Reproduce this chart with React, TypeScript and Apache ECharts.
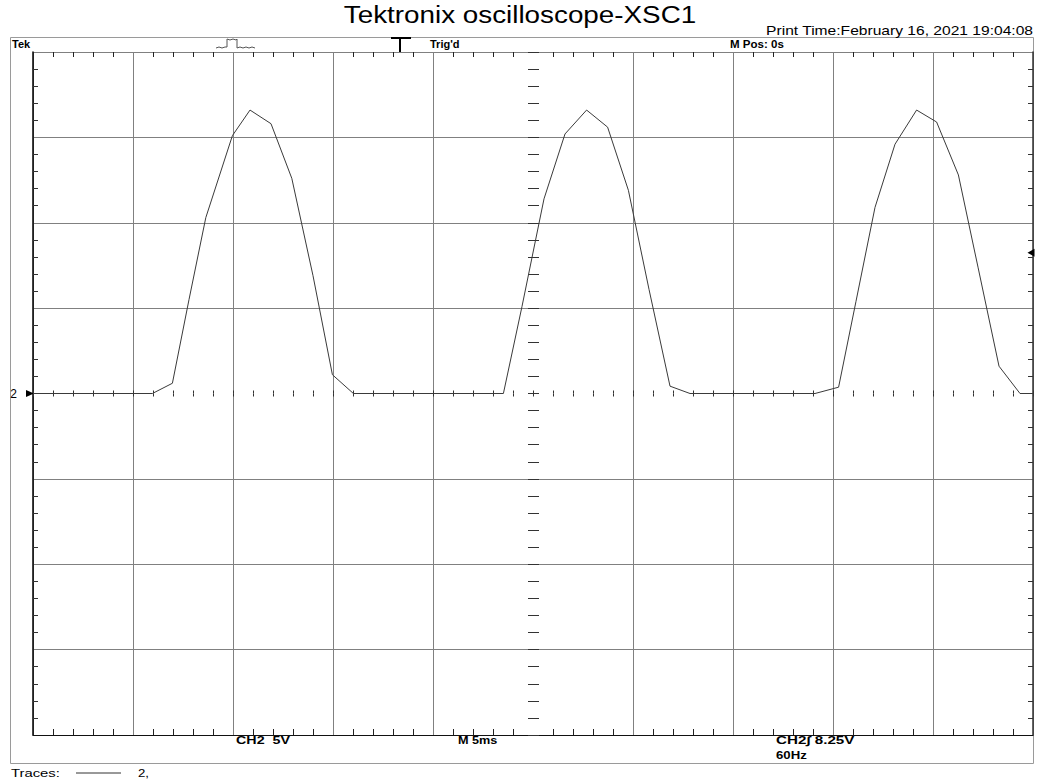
import React, { useEffect, useRef } from "react";
import * as echarts from "echarts";

const timeMs = [
  -25, -19.03, -18.03, -17.2, -16.36, -15.03, -14.15, -13.1, -12.06, -11.0, -10.03, -8.98,
  -1.48, -0.55, 0.55, 1.6, 2.68, 3.73, 4.77, 5.8, 6.85, 7.85,
  14.1, 15.28, 16.15, 17.1, 18.1, 19.18, 20.18, 21.27, 22.25, 23.3, 24.35, 25,
];
const ch2Volts = [
  0, 0, 0.6, 5.5, 10.3, 15.1, 16.6, 15.8, 12.6, 6.9, 1.1, 0,
  0, 5.1, 11.4, 15.2, 16.6, 15.6, 11.9, 6.1, 0.43, 0,
  0, 0.37, 5.4, 10.9, 14.6, 16.6, 15.9, 12.8, 7.4, 1.6, 0, 0,
];
const timeRange = [-25, 25]; // 10 divisions of 5 ms
const msPerDiv = 5;
const voltRange = [-20, 20]; // 8 divisions of 5 V
const voltsPerDiv = 5;
const minorPerDiv = 5;
const triggerLevel = 8.25;
const channelLabel = "2";

const titleText = "Tektronix oscilloscope-XSC1";
const printTime = "Print Time:February 16, 2021 19:04:08";
const headerTexts = ["Tek", "Trig'd", "M Pos: 0s"];
const footerTexts = ["CH2  5V", "M 5ms", "CH2\u222B 8.25V", "60Hz"];
const legendText = ["Traces:", "2,"];

const FF = '"Liberation Sans", Arial, sans-serif';

function txt(text: string, x: number, y: number, font: string, align = "left", scaleX = 1) {
  return {
    type: "text",
    x,
    y,
    scaleX,
    silent: true,
    style: {
      text,
      font,
      fill: "#000",
      align,
      verticalAlign: "middle",
      textAlign: align,
      textVerticalAlign: "middle",
    },
  };
}

export default function App() {
  const ref = useRef<HTMLDivElement>(null);
  useEffect(() => {
    const chart = echarts.init(ref.current!, null, { renderer: "svg" });
    const xCount = (timeRange[1] - timeRange[0]) / msPerDiv + 1;
    const yCount = (voltRange[1] - voltRange[0]) / voltsPerDiv + 1;
    const xSplitColors = Array.from({ length: xCount }, (_, i) =>
      timeRange[0] + i * msPerDiv === 0 ? "rgba(0,0,0,0)" : "#808080"
    );
    const ySplitColors = Array.from({ length: yCount }, (_, i) =>
      voltRange[0] + i * voltsPerDiv === 0 ? "rgba(0,0,0,0)" : "#808080"
    );
    const xBase = {
      type: "value",
      min: timeRange[0],
      max: timeRange[1],
      interval: msPerDiv,
      axisLabel: { show: false },
      splitLine: { show: false },
    };
    const yBase = {
      type: "value",
      min: voltRange[0],
      max: voltRange[1],
      interval: voltsPerDiv,
      axisLabel: { show: false },
      splitLine: { show: false },
    };
    const tickColor = "#333";
    const tickAxis = (inside: boolean, len: number) => ({
      ...xBase,
      position: "bottom",
      axisLine: { show: false, onZero: true, onZeroAxisIndex: 0 },
      axisTick: { show: true, inside, length: len, lineStyle: { color: tickColor } },
      minorTick: { show: true, splitNumber: minorPerDiv, length: len, lineStyle: { color: tickColor } },
    });
    const baseGraphic: any[] = [
      {
        type: "rect",
        silent: true,
        shape: { x: 10.5, y: 37.5, width: 1023, height: 726 },
        style: { fill: "none", stroke: "#9a9a9a", lineWidth: 1 },
      },
      {
        type: "line",
        silent: true,
        shape: { x1: 33, y1: 52.5, x2: 1033, y2: 52.5 },
        style: { stroke: "#222", lineWidth: 1 },
      },
      {
        type: "line",
        silent: true,
        shape: { x1: 391, y1: 38, x2: 411, y2: 38 },
        style: { stroke: "#000", lineWidth: 2 },
      },
      {
        type: "line",
        silent: true,
        shape: { x1: 400, y1: 38, x2: 400, y2: 52 },
        style: { stroke: "#000", lineWidth: 2 },
      },
      {
        type: "polyline",
        silent: true,
        shape: {
          points: [
            [216, 48], [219, 47], [222, 48], [225, 47], [227, 47], [227, 39], [230, 40], [233, 39],
            [236, 40], [237, 39], [237, 48], [240, 47], [243, 48], [246, 47], [249, 48], [252, 47], [255, 48],
          ],
        },
        style: { stroke: "#555", lineWidth: 1, fill: "none" },
      },
      {
        type: "line",
        silent: true,
        shape: { x1: 76, y1: 773, x2: 121, y2: 773 },
        style: { stroke: "#333", lineWidth: 1 },
      },
      txt(titleText, 520, 15, `23px ${FF}`, "center", 1.21),
      txt(printTime, 1033, 31, `12px ${FF}`, "right", 1.3),
      txt(headerTexts[0], 12, 44, `bold 11px ${FF}`),
      txt(headerTexts[1], 430, 44, `bold 11px ${FF}`),
      txt(headerTexts[2], 730, 44, `bold 11px ${FF}`, "left", 1.05),
      txt(footerTexts[0], 236, 740, `bold 11px ${FF}`, "left", 1.3),
      txt(footerTexts[1], 458, 740, `bold 11px ${FF}`, "left", 1.15),
      txt(footerTexts[2], 776, 740, `bold 11px ${FF}`, "left", 1.38),
      txt(footerTexts[3], 776, 755, `bold 11px ${FF}`, "left", 1.2),
      txt(legendText[0], 11, 773, `11px ${FF}`, "left", 1.35),
      txt(legendText[1], 138, 773, `11px ${FF}`, "left", 1.2),
    ];
    const option: any = {
      animation: false,
      backgroundColor: "#fff",
      grid: { left: 33, top: 52, width: 1000, height: 683 },
      xAxis: [
        {
          ...xBase,
          position: "bottom",
          axisLine: { show: true, onZero: false, lineStyle: { color: "#111", width: 1 } },
          axisTick: { show: false },
          splitLine: { show: true, lineStyle: { color: xSplitColors, width: 1 } },
        },
        tickAxis(true, 3),
        tickAxis(false, 3),
      ],
      yAxis: [
        {
          ...yBase,
          position: "left",
          axisLine: { show: true, onZero: false, lineStyle: { color: "#000", width: 1.5 } },
          axisTick: { show: false, inside: true },
          minorTick: { show: true, splitNumber: minorPerDiv, length: 5, lineStyle: { color: tickColor } },
          splitLine: { show: true, lineStyle: { color: ySplitColors, width: 1 } },
          axisLabel: {
            show: true,
            margin: 16,
            fontSize: 12,
            fontFamily: FF,
            color: "#000",
            formatter: (v: number) => (v === 0 ? channelLabel : ""),
          },
        },
        {
          ...yBase,
          position: "right",
          axisLine: { show: true, onZero: false, lineStyle: { color: "#333", width: 1.5 } },
          axisTick: { show: false, inside: true },
          minorTick: { show: true, splitNumber: minorPerDiv, length: 5, lineStyle: { color: tickColor } },
        },
        {
          ...yBase,
          position: "left",
          axisLine: { show: false, onZero: true, onZeroAxisIndex: 0 },
          axisTick: { show: true, inside: true, length: 6, lineStyle: { color: tickColor } },
          minorTick: { show: true, splitNumber: minorPerDiv, length: 6, lineStyle: { color: tickColor } },
        },
        {
          ...yBase,
          position: "left",
          axisLine: { show: false, onZero: true, onZeroAxisIndex: 0 },
          axisTick: { show: true, inside: false, length: 5, lineStyle: { color: tickColor } },
          minorTick: { show: true, splitNumber: minorPerDiv, length: 5, lineStyle: { color: tickColor } },
        },
      ],
      series: [
        {
          type: "line",
          xAxisIndex: 0,
          yAxisIndex: 0,
          data: timeMs.map((t, i) => [t, ch2Volts[i]]),
          showSymbol: false,
          symbol: "none",
          lineStyle: { color: "#3a3a3a", width: 1 },
          z: 5,
          markPoint: {
            silent: true,
            label: { show: false },
            itemStyle: { color: "#000" },
            data: [
              { coord: [timeRange[0], 0], symbol: "triangle", symbolSize: [7, 8], symbolRotate: -90, symbolOffset: [-3, 0] },
              { coord: [timeRange[1], triggerLevel], symbol: "triangle", symbolSize: [8, 7], symbolRotate: 90, symbolOffset: [-2, 0] },
            ],
          },
        },
      ],
      graphic: baseGraphic,
    };
    chart.setOption(option);

    // minor ticks on the top and bottom edges, placed through the grid's own scales
    const step = msPerDiv / minorPerDiv;
    const nSteps = Math.round((timeRange[1] - timeRange[0]) / step);
    const edgeTicks: any[] = [];
    for (let i = 1; i < nSteps; i++) {
      if (i % minorPerDiv === 0) continue;
      const t = timeRange[0] + i * step;
      const pTop = chart.convertToPixel({ gridIndex: 0 }, [t, voltRange[1]]) as number[];
      const pBot = chart.convertToPixel({ gridIndex: 0 }, [t, voltRange[0]]) as number[];
      if (!pTop || !pBot) continue;
      const x = Math.round(pTop[0]) + 0.5;
      edgeTicks.push({
        type: "line",
        silent: true,
        z: 100,
        shape: { x1: x, y1: pTop[1], x2: x, y2: pTop[1] + 5 },
        style: { stroke: "#222", lineWidth: 1 },
      });
      edgeTicks.push({
        type: "line",
        silent: true,
        z: 100,
        shape: { x1: x, y1: pBot[1] - 6, x2: x, y2: pBot[1] },
        style: { stroke: "#222", lineWidth: 1 },
      });
    }
    chart.setOption({ graphic: [...baseGraphic, ...edgeTicks] });
    return () => chart.dispose();
  }, []);
  return (
    <div
      ref={ref}
      style={{ position: "absolute", left: 0, top: 0, width: 1038, height: 780, background: "#fff" }}
    />
  );
}
